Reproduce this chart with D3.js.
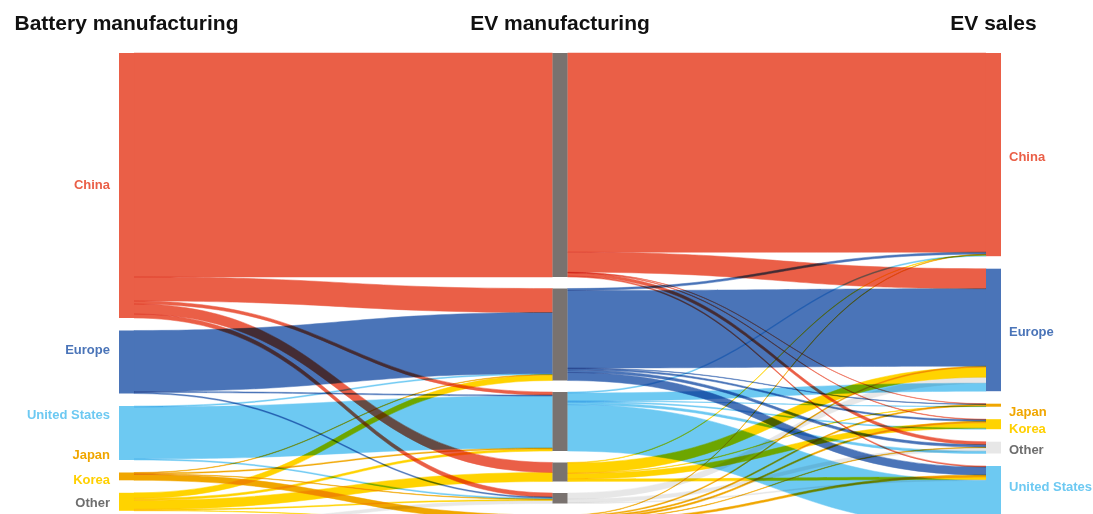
<!DOCTYPE html>
<html><head><meta charset="utf-8">
<script src="https://cdn.jsdelivr.net/npm/d3@7"></script>
<style>
html,body{margin:0;padding:0;background:#fff;overflow:hidden}
svg{display:block}
text{font-family:"Liberation Sans",Arial,sans-serif;font-weight:700}
</style></head><body>
<svg id="chart" width="1093" height="514"></svg>
<script>
// ---------------- DATA ----------------
const stageTitles = ["Battery manufacturing", "EV manufacturing", "EV sales"];
const batteryNodes = ["China", "Europe", "United States", "Japan", "Korea", "Other"];
const evMakerNodes = ["China", "Europe", "United States", "Korea", "Other", "Japan"];
const salesNodes   = ["China", "Europe", "Japan", "Korea", "Other", "United States"];

// battery manufacturing -> EV manufacturing  [source, target, value]
const batteryToMaker = [
  ["China", "China", 224], ["China", "Europe", 24], ["China", "United States", 3],
  ["China", "Korea", 10], ["China", "Other", 4],
  ["Europe", "Europe", 61], ["Europe", "United States", 1], ["Europe", "Other", 1],
  ["United States", "Europe", 1], ["United States", "United States", 52], ["United States", "Other", 1],
  ["Japan", "Europe", 0.5], ["Japan", "United States", 1], ["Japan", "Other", 0.5], ["Japan", "Japan", 5.8],
  ["Korea", "Europe", 5.5], ["Korea", "United States", 2], ["Korea", "Korea", 9],
  ["Korea", "Other", 1], ["Korea", "Japan", 0.5],
  ["Other", "Other", 3], ["Other", "Japan", 0.5]
];

// EV manufacturing -> EV sales  [source, target, value]
const makerToSales = [
  ["China", "China", 199.2], ["China", "Europe", 20], ["China", "Japan", 0.3],
  ["China", "Korea", 0.5], ["China", "Other", 3], ["China", "United States", 1],
  ["Europe", "China", 2], ["Europe", "Europe", 77.5], ["Europe", "Japan", 0.5],
  ["Europe", "Korea", 1.5], ["Europe", "Other", 2.5], ["Europe", "United States", 8],
  ["United States", "China", 1], ["United States", "Europe", 8], ["United States", "Japan", 0.4],
  ["United States", "Korea", 1], ["United States", "Other", 2.3], ["United States", "United States", 46.3],
  ["Korea", "China", 0.5], ["Korea", "Europe", 10], ["Korea", "Japan", 0.5],
  ["Korea", "Korea", 5.5], ["Korea", "United States", 2.5],
  ["Other", "Europe", 6], ["Other", "Other", 3.5], ["Other", "United States", 1],
  ["Japan", "China", 0.5], ["Japan", "Europe", 1], ["Japan", "Japan", 1.3],
  ["Japan", "Korea", 1.5], ["Japan", "Other", 0.5], ["Japan", "United States", 2]
];

// ---------------- STYLE / LAYOUT ----------------
const fillColor = {"China": "#EA5F47", "Europe": "#4A74B8", "United States": "#6DC9F2",
                   "Japan": "#F0A600", "Korea": "#FFD300", "Other": "#E7E7E7"};
const textColor = {"China": "#EA5F47", "Europe": "#4A74B8", "United States": "#6DC9F2",
                   "Japan": "#F0A600", "Korea": "#FFD000", "Other": "#6E6E6E"};
const hubColor = "#79726F";
const labelNudge = [
  {"China": -1.5, "Europe": -12.5, "United States": -19, "Japan": -21.5, "Korea": -22.8, "Other": -23},
  null,
  {"China": 1.4, "Europe": 1, "Japan": 5.8, "Korea": 3.8, "Other": 1.4, "United States": -9.5}
];

const svg = d3.select("#chart");
const columns = [batteryNodes, evMakerNodes, salesNodes];
const flows = [batteryToMaker, makerToSales];
const colX = d3.scalePoint().domain([0, 1, 2]).range([119, 986]);
const nodeW = 15, topY = 53;
const pad = [12.5, 11.5, 12.5];
const hScale = d3.scaleLinear().domain([0, 1]).range([0, 1]); // px per unit

// build nodes
const nodes = columns.map((names, c) => names.map((name, i) => ({name, col: c, idx: i, inV: 0, outV: 0, ins: [], outs: []})));
const links = [];
flows.forEach((list, c) => list.forEach(([s, t, v]) => {
  const sn = nodes[c].find(n => n.name === s), tn = nodes[c + 1].find(n => n.name === t);
  const l = {c, s: sn, t: tn, v};
  sn.outs.push(l); tn.ins.push(l); sn.outV += v; tn.inV += v;
  links.push(l);
}));
nodes.forEach((col, c) => {
  let y = topY;
  col.forEach(n => {
    n.value = Math.max(n.inV, n.outV);
    n.y0 = y; n.y1 = y + hScale(n.value);
    y = n.y1 + pad[c];
  });
});
// order and stack links at both ends
nodes.flat().forEach(n => {
  let y = n.y0;
  n.outs.slice().sort((a, b) => a.t.idx - b.t.idx).forEach(l => { l.sy0 = y; y += hScale(l.v); l.sy1 = y; });
  y = n.y0;
  const order = n.col === 2 ? salesNodes : batteryNodes;
  n.ins.slice().sort((a, b) => order.indexOf(a.s.name) - order.indexOf(b.s.name))
    .forEach(l => { l.ty0 = y; y += hScale(l.v); l.ty1 = y; });
});

function ribbon(l) {
  const x0 = colX(l.c) + nodeW, x1 = colX(l.c + 1), xm = (x0 + x1) / 2;
  const p = d3.path();
  p.moveTo(x0, l.sy0);
  p.bezierCurveTo(xm, l.sy0, xm, l.ty0, x1, l.ty0);
  p.lineTo(x1, l.ty1);
  p.bezierCurveTo(xm, l.ty1, xm, l.sy1, x0, l.sy1);
  p.closePath();
  return p.toString();
}

svg.append("g").selectAll("path").data(links).join("path")
  .attr("d", ribbon)
  .attr("fill", d => fillColor[d.s.name])
  .attr("stroke", d => fillColor[d.s.name])
  .attr("stroke-width", 0.5)
  .style("mix-blend-mode", "multiply");

svg.append("g").selectAll("rect").data(nodes.flat()).join("rect")
  .attr("x", d => colX(d.col)).attr("y", d => d.y0)
  .attr("width", nodeW).attr("height", d => Math.max(0.8, d.y1 - d.y0))
  .attr("fill", d => d.col === 1 ? hubColor : fillColor[d.name]);

// titles
svg.append("g").selectAll("text").data(stageTitles).join("text")
  .attr("x", (d, i) => colX(i) + nodeW / 2).attr("y", 30)
  .attr("text-anchor", "middle").attr("font-size", 21).attr("fill", "#111")
  .text(d => d);

// labels
[0, 2].forEach(c => {
  svg.append("g").selectAll("text").data(nodes[c]).join("text")
    .attr("x", c === 0 ? colX(0) - 9 : colX(2) + nodeW + 8)
    .attr("y", d => (d.y0 + d.y1) / 2 + labelNudge[c][d.name])
    .attr("dy", "0.35em")
    .attr("text-anchor", c === 0 ? "end" : "start")
    .attr("font-size", 13)
    .attr("fill", d => textColor[d.name])
    .text(d => d.name);
});
</script>
</body></html>
